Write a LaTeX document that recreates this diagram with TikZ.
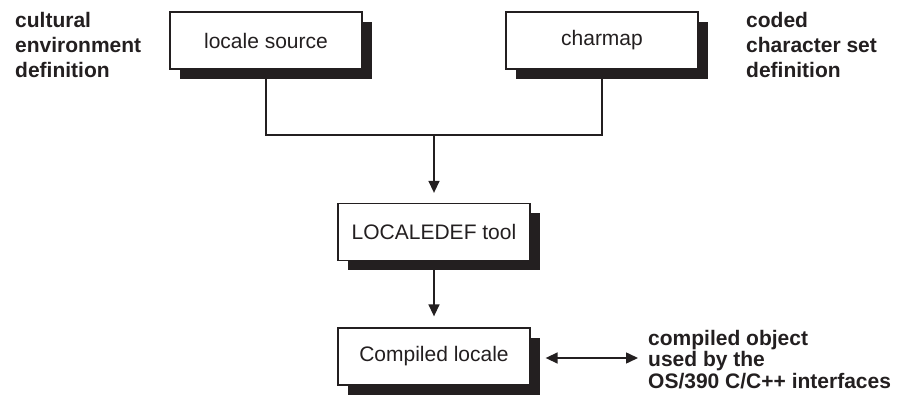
\documentclass[tikz,border=0pt]{standalone}
\usepackage{fontspec}
\setmainfont{Liberation Sans}
\usetikzlibrary{arrows.meta,shadows}
\definecolor{ink}{HTML}{231F20}
\begin{document}
\begin{tikzpicture}[x=1pt,y=-1pt,
  boxstyle/.style={draw=ink, line width=1.3pt, fill=white, minimum width=192pt, minimum height=57pt,
    inner sep=0pt, font=\fontsize{21}{25}\selectfont, text=ink,
    drop shadow={shadow xshift=10pt, shadow yshift=-10pt, fill=ink, opacity=1}},
  labelstyle/.style={anchor=north west, inner sep=0pt, align=left, text=ink,
    font=\fontsize{21}{25}\selectfont\bfseries},
  conn/.style={draw=ink, line width=1.5pt},
  arr/.style={conn, -{Triangle[width=11pt,length=12pt]}},
  dblarr/.style={conn, {Triangle[width=11pt,length=12pt]}-{Triangle[width=11pt,length=12pt]}}]
\useasboundingbox (0,0) rectangle (897,395);
\node[boxstyle] (ls) at (266,40.5) {locale source};
\node[boxstyle] (cm) at (602,40.5) {charmap};
\node[boxstyle] (ld) at (434,232) {LOCALEDEF tool};
\node[boxstyle] (cl) at (434,356.5) {Compiled locale};
\coordinate (join) at (434,135);
\coordinate (out) at (638,358);
\node[labelstyle] (l1) at (15,11.7) {cultural\\environment\\definition};
\node[labelstyle] (l2) at (746,11.7) {coded\\character set\\definition};
\node[labelstyle, font=\fontsize{21}{21.5}\selectfont\bfseries] (l3) at (648,329.7) {compiled object\\used by the\\OS/390 C/C++ interfaces};
\draw[conn] (ls.south) |- (join);
\draw[conn] (cm.south) |- (join);
\draw[arr, shorten >=10pt] (join) -- (ld.north);
\draw[arr, shorten >=11pt] (ld.south) -- (cl.north);
\draw[dblarr, shorten <=15pt] (cl.east |- out) -- (out);
\end{tikzpicture}
\end{document}
